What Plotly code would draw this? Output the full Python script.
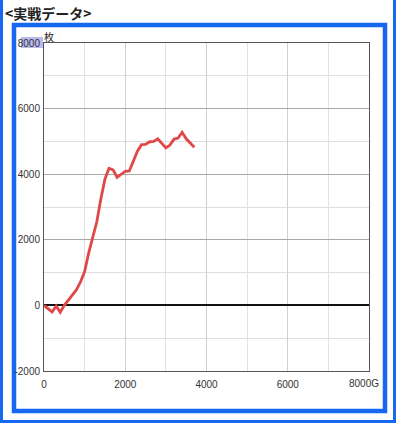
import plotly.graph_objects as go

games = [0, 200, 300, 400, 500, 600, 700, 800, 900, 1000, 1100, 1200, 1300, 1400, 1500,
         1600, 1700, 1800, 1900, 2000, 2100, 2200, 2300, 2400, 2500, 2600, 2700, 2800,
         2900, 3000, 3100, 3200, 3300, 3400, 3500, 3600, 3700]
medals = [0, -200, -20, -210, 0, 150, 300, 480, 720, 1030, 1600, 2100, 2550, 3250, 3850,
          4180, 4130, 3900, 4000, 4090, 4100, 4390, 4700, 4900, 4910, 4990, 5000, 5080,
          4950, 4800, 4890, 5070, 5100, 5280, 5080, 4940, 4820]

x_ticks = [0, 2000, 4000, 6000, 8000]
x_tick_labels = ["0", "2000", "4000", "6000", ""]
last_x_label = "8000G"
y_ticks = [-2000, 0, 2000, 4000, 6000, 8000]
y_tick_labels = ["-2000", "0", "2000", "4000", "6000", "8000"]

W, H = 400, 426
L, R, T, B = 44, 31, 43, 55
PW, PH = W - L - R, H - T - B


def px(x):
    return (x - L) / PW


def py(y):
    return (H - B - y) / PH


fig = go.Figure()
fig.add_trace(go.Scatter(x=games, y=medals, mode="lines",
                         line=dict(color="#e04848", width=2.8), hoverinfo="skip"))

BLUE = "#1768f0"
shapes = [
    dict(type="rect", xref="paper", yref="paper", x0=px(14), x1=px(385), y0=py(411), y1=py(25),
         line=dict(color=BLUE, width=4.5), fillcolor="rgba(0,0,0,0)", layer="below"),
    dict(type="line", xref="paper", yref="paper", x0=px(1.5), x1=px(1.5), y0=py(-10), y1=py(421.5),
         line=dict(color=BLUE, width=3)),
    dict(type="line", xref="paper", yref="paper", x0=px(394.5), x1=px(394.5), y0=py(-10), y1=py(421.5),
         line=dict(color=BLUE, width=3)),
    dict(type="line", xref="paper", yref="paper", x0=px(0), x1=px(396), y0=py(421.5), y1=py(421.5),
         line=dict(color=BLUE, width=3)),
    dict(type="rect", xref="paper", yref="paper", x0=px(21), x1=px(43), y0=py(48), y1=py(37),
         line=dict(width=0), fillcolor="#b9b9ee", layer="below"),
]

TICKFONT = dict(size=10, color="#333", family="Liberation Sans, Arial, sans-serif")

annotations = [
    dict(text="<b>&lt;実戦データ&gt;</b>", xref="paper", yref="paper", x=px(3), y=py(13),
         xanchor="left", yanchor="middle", showarrow=False,
         font=dict(size=14, color="#222", family="Noto Sans CJK JP")),
    dict(text="枚", xref="paper", yref="paper", x=px(42), y=py(36),
         xanchor="left", yanchor="middle", showarrow=False,
         font=dict(size=10, color="#222", family="Noto Sans CJK JP")),
    dict(text=last_x_label, xref="x", yref="paper", x=x_ticks[-1], y=0, yshift=-5, xshift=-5,
         xanchor="center", yanchor="top", showarrow=False, font=TICKFONT),
]

fig.update_layout(
    width=W, height=H,
    margin=dict(l=L, r=R, t=T, b=B, pad=0),
    paper_bgcolor="white", plot_bgcolor="white",
    showlegend=False,
    shapes=shapes, annotations=annotations,
    font=dict(family="Liberation Sans, Arial, sans-serif", size=10, color="#333"),
    xaxis=dict(range=[0, 8000], tickvals=x_ticks, ticktext=x_tick_labels,
               showgrid=True, gridcolor="#d0d0d0", gridwidth=1,
               minor=dict(dtick=1000, showgrid=True, gridcolor="#e2e2e2", gridwidth=1),
               showline=True, linecolor="#555", linewidth=1, mirror=True,
               ticks="", ticklabelstandoff=4, zeroline=False, automargin=False,
               tickfont=TICKFONT),
    yaxis=dict(range=[-2000, 8000], tickvals=y_ticks, ticktext=y_tick_labels,
               showgrid=True, gridcolor="#a8a8a8", gridwidth=1,
               minor=dict(dtick=1000, showgrid=True, gridcolor="#dedede", gridwidth=1),
               showline=True, linecolor="#555", linewidth=1, mirror=True,
               ticks="", ticklabelstandoff=1, automargin=False,
               zeroline=True, zerolinecolor="#111", zerolinewidth=1.5,
               tickfont=TICKFONT),
)

fig.write_html("out.html", config={"displayModeBar": False},
               post_script="document.body.style.margin='0';document.body.style.overflow='hidden';")
